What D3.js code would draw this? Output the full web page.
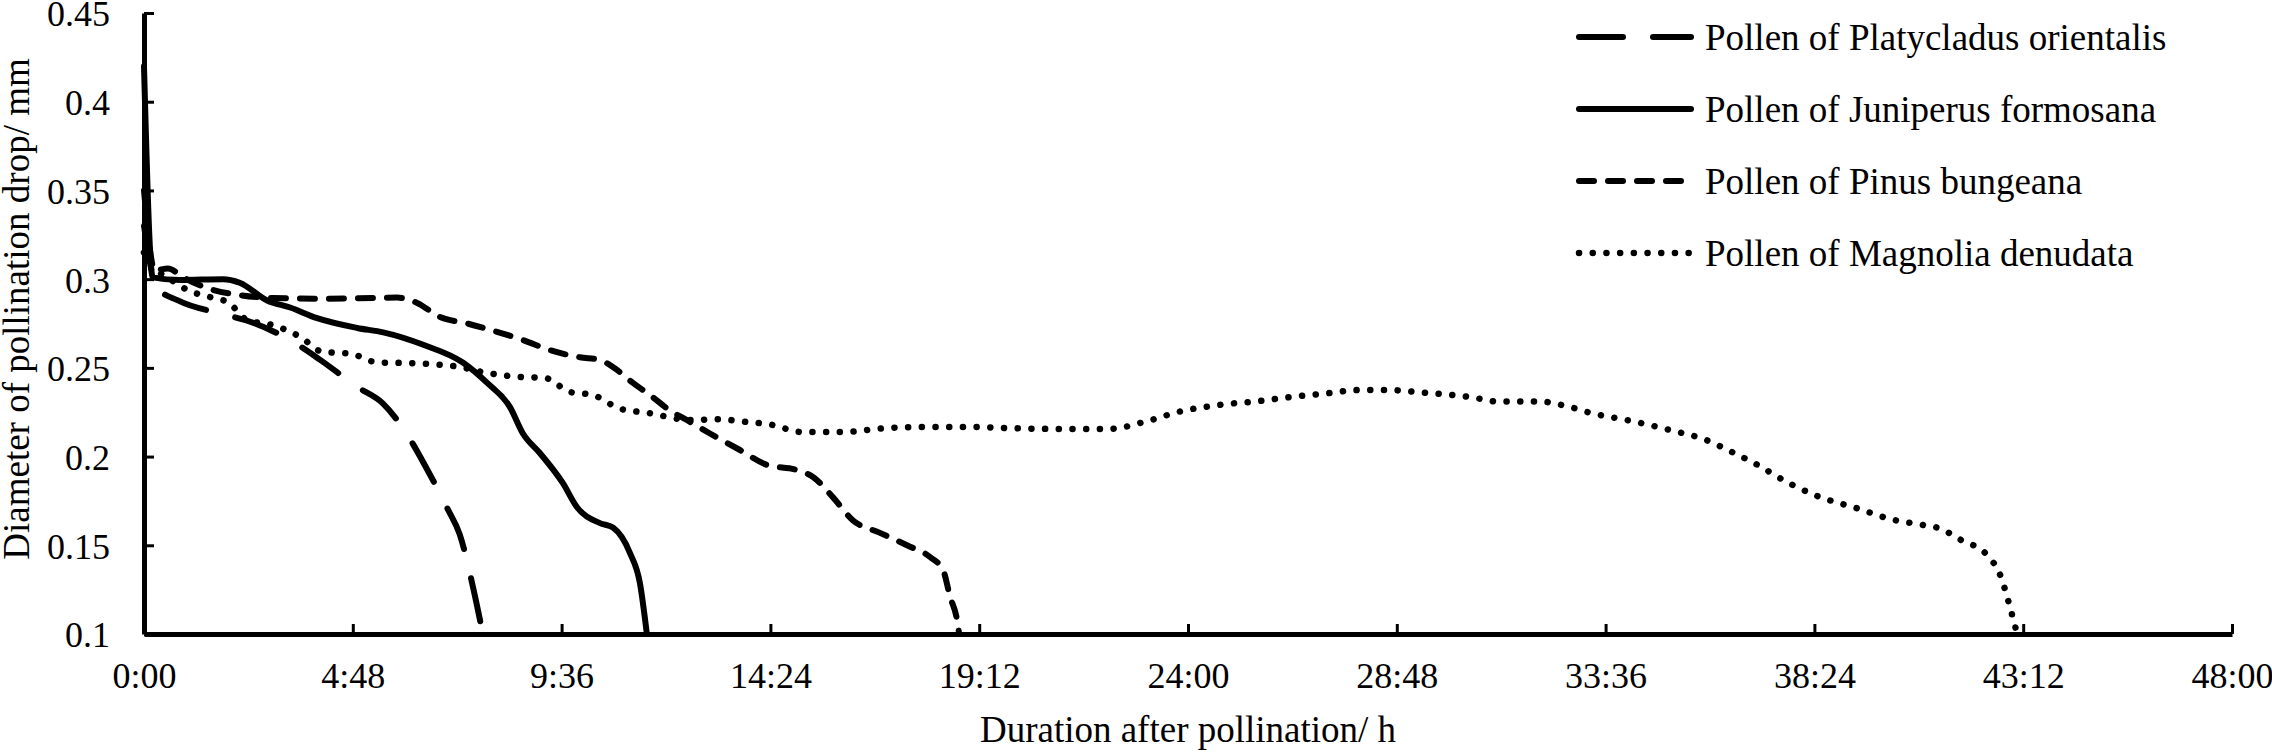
<!DOCTYPE html>
<html>
<head>
<meta charset="utf-8">
<script src="https://cdn.jsdelivr.net/npm/d3@7/dist/d3.min.js"></script>
<style>
  body { margin: 0; background: #fff; }
  svg { display: block; }
</style>
</head>
<body>
<div id="chart"></div>
<script>
// hours after pollination / diameter (mm)
const platycladusHours = [0, 0.3, 0.78, 1.86, 2.44, 3.47, 4.05, 4.92, 5.49, 6.16, 6.46, 6.99, 7.26, 7.54, 7.79]
const platycladusDiameter = [0.33, 0.295, 0.288, 0.28, 0.276, 0.264, 0.2545, 0.239, 0.23, 0.208, 0.195, 0.17, 0.156, 0.129, 0.1]

const juniperusHours = [0, 0.2, 0.83, 1.82, 2.2, 2.83, 3.36, 3.98, 4.9, 5.5, 6.42, 7.33, 7.89, 8.41, 8.71, 9.1, 9.63, 9.95, 10.48, 10.78, 11.17, 11.4, 11.56]
const juniperusDiameter = [0.42, 0.301, 0.2995, 0.3, 0.298, 0.288, 0.284, 0.278, 0.2725, 0.27, 0.263, 0.253, 0.2415, 0.228, 0.213, 0.202, 0.185, 0.1716, 0.1625, 0.16, 0.1457, 0.1287, 0.1]

const pinusHours = [0, 0.25, 0.55, 0.9, 1.45, 2.2, 2.97, 4.11, 5.26, 5.82, 6.28, 6.8, 7.43, 8.02, 8.71, 9.33, 10.02, 10.48, 10.78, 11.24, 11.63, 12.09, 12.48, 13.01, 13.7, 14.32, 15.01, 15.38, 15.84, 16.3, 16.92, 17.54, 18.07, 18.37, 18.53, 18.69, 18.74]
const pinusDiameter = [0.35, 0.305, 0.306, 0.301, 0.295, 0.291, 0.2894, 0.289, 0.2894, 0.2896, 0.2866, 0.2787, 0.275, 0.271, 0.2657, 0.26, 0.256, 0.2545, 0.2505, 0.2415, 0.2347, 0.226, 0.2206, 0.213, 0.2037, 0.1953, 0.1924, 0.1885, 0.177, 0.164, 0.157, 0.15, 0.1434, 0.136, 0.121, 0.108, 0.1]

const magnoliaHours = [0, 0.3, 0.6, 0.99, 1.59, 1.93, 2.37, 2.97, 3.59, 4.11, 4.74, 5.38, 6.05, 6.64, 7.26, 7.91, 8.57, 9.22, 9.79, 10.32, 10.94, 11.59, 12.55, 13.2, 13.86, 14.46, 15.08, 16.07, 17.03, 18, 18.94, 19.91, 20.9, 22.16, 23.15, 23.75, 24.69, 25.63, 26.37, 27.26, 27.91, 28.57, 29.45, 30.48, 31.15, 32.09, 32.69, 33.26, 34.3, 35.17, 35.84, 36.41, 37.01, 37.82, 38.41, 39.36, 40.23, 40.9, 41.26, 41.77, 42.37, 42.69, 42.87, 43.06]
const magnoliaDiameter = [0.315, 0.305, 0.3, 0.294, 0.2894, 0.287, 0.277, 0.274, 0.2675, 0.259, 0.258, 0.253, 0.2527, 0.252, 0.2505, 0.247, 0.245, 0.2443, 0.2364, 0.2347, 0.227, 0.2246, 0.2206, 0.221, 0.2195, 0.2178, 0.2139, 0.2139, 0.216, 0.2167, 0.2167, 0.216, 0.2156, 0.2156, 0.2206, 0.225, 0.229, 0.2313, 0.2336, 0.2358, 0.2375, 0.2375, 0.236, 0.2336, 0.231, 0.231, 0.2285, 0.2246, 0.2195, 0.2144, 0.21, 0.2037, 0.1964, 0.185, 0.1783, 0.171, 0.1643, 0.1614, 0.1597, 0.153, 0.1445, 0.132, 0.1175, 0.1]

const seriesNames = ['Pollen of Platycladus orientalis', 'Pollen of Juniperus formosana', 'Pollen of Pinus bungeana', 'Pollen of Magnolia denudata']
const xTickHours = [0, 4.8, 9.6, 14.4, 19.2, 24, 28.8, 33.6, 38.4, 43.2, 48]
const xTickLabels = ['0:00', '4:48', '9:36', '14:24', '19:12', '24:00', '28:48', '33:36', '38:24', '43:12', '48:00']
const yTickValues = [0.1, 0.15, 0.2, 0.25, 0.3, 0.35, 0.4, 0.45]
const yTickLabels = ['0.1', '0.15', '0.2', '0.25', '0.3', '0.35', '0.4', '0.45']

const width = 2272
const height = 753
const font = '"Times New Roman", "Liberation Serif", serif'

const series = [
  { name: seriesNames[0], hours: platycladusHours, values: platycladusDiameter, dash: '44,30', w: 6 },
  { name: seriesNames[1], hours: juniperusHours, values: juniperusDiameter, dash: null, w: 6 },
  { name: seriesNames[2], hours: pinusHours, values: pinusDiameter, dash: '15,14', w: 6 },
  { name: seriesNames[3], hours: magnoliaHours, values: magnoliaDiameter, dash: '0.1,13.6', w: 6.5 }
]

const x = d3.scaleLinear().domain([0, 48]).range([144, 2232])
const y = d3.scaleLinear().domain([0.1, 0.45]).range([634, 13])

const svg = d3.select('#chart').append('svg')
  .attr('width', width)
  .attr('height', height)
  .attr('font-family', font)

svg.append('rect').attr('width', width).attr('height', height).attr('fill', '#fff')

// x axis, ticks pointing inward
const xAxis = svg.append('g')
  .attr('transform', `translate(0,${y(0.1)})`)
  .call(d3.axisBottom(x)
    .tickValues(xTickHours)
    .tickFormat((d, i) => xTickLabels[i])
    .tickSizeInner(-10)
    .tickSizeOuter(0)
    .tickPadding(28))
xAxis.select('.domain').attr('stroke', '#000').attr('stroke-width', 5)
xAxis.selectAll('.tick line').attr('stroke', '#000').attr('stroke-width', 3)
xAxis.selectAll('.tick text').attr('font-size', 36).attr('font-family', font).attr('fill', '#000')

// y axis
const yAxis = svg.append('g')
  .attr('transform', `translate(${x(0)},0)`)
  .call(d3.axisLeft(y)
    .tickValues(yTickValues)
    .tickFormat((d, i) => yTickLabels[i])
    .tickSizeInner(-10)
    .tickSizeOuter(0)
    .tickPadding(34))
yAxis.select('.domain').attr('stroke', '#000').attr('stroke-width', 5)
yAxis.selectAll('.tick line').attr('stroke', '#000').attr('stroke-width', 3)
yAxis.selectAll('.tick text').attr('font-size', 36).attr('font-family', font).attr('fill', '#000').attr('dy', '0.36em')

// axis titles
svg.append('text')
  .attr('x', (x(0) + x(48)) / 2)
  .attr('y', 742)
  .attr('text-anchor', 'middle')
  .attr('font-size', 37)
  .text('Duration after pollination/ h')

svg.append('text')
  .attr('transform', 'translate(29,309) rotate(-90)')
  .attr('text-anchor', 'middle')
  .attr('font-size', 37)
  .text('Diameter of pollination drop/ mm')

// curves
const line = d3.line()
  .x(d => x(d[0]))
  .y(d => y(d[1]))
  .curve(d3.curveMonotoneX)

svg.append('g')
  .selectAll('path')
  .data(series)
  .join('path')
  .attr('d', s => line(s.hours.map((h, i) => [h, s.values[i]])))
  .attr('fill', 'none')
  .attr('stroke', '#000')
  .attr('stroke-width', s => s.w)
  .attr('stroke-linecap', 'round')
  .attr('stroke-linejoin', 'round')
  .attr('stroke-dasharray', s => s.dash)

// legend
const legend = svg.append('g')
  .selectAll('g')
  .data(series)
  .join('g')
  .attr('transform', (s, i) => `translate(1576,${37 + i * 72})`)

legend.append('line')
  .attr('x1', 3)
  .attr('x2', 115)
  .attr('stroke', '#000')
  .attr('stroke-width', s => s.w)
  .attr('stroke-linecap', 'round')
  .attr('stroke-dasharray', s => s.dash)

legend.append('text')
  .attr('x', 129)
  .attr('y', 13)
  .attr('font-size', 37)
  .text(s => s.name)
</script>
</body>
</html>
